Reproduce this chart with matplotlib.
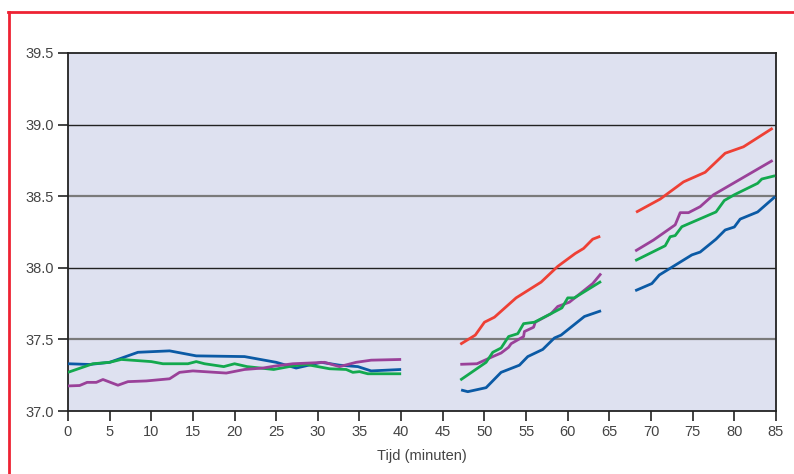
import numpy as np
import matplotlib
matplotlib.use("Agg")
import matplotlib.pyplot as plt
from matplotlib.lines import Line2D

plt.rcParams["font.family"] = ["Liberation Sans", "DejaVu Sans"]

# Segment 1 (0-40 min)
x_blue_1 = [0, 2.6, 5, 8.4, 12.2, 15.4, 21.2, 25, 27.4, 30.4, 32.6, 34.8, 36.4, 40]
y_blue_1 = [37.33, 37.325, 37.34, 37.41, 37.42, 37.385, 37.38, 37.34, 37.30, 37.34, 37.32, 37.31, 37.28, 37.29]
x_green_1 = [0, 3.0, 5, 6.4, 10, 11.4, 14.4, 15.4, 16.4, 18.7, 20, 21.5, 24.7, 27, 28.6, 31.4, 33.4, 34.2, 35, 36, 40]
y_green_1 = [37.27, 37.33, 37.34, 37.36, 37.345, 37.33, 37.33, 37.345, 37.33, 37.31, 37.33, 37.31, 37.29, 37.315, 37.325, 37.295,
             37.29, 37.27, 37.275, 37.26, 37.26]
x_purple_1 = [0, 1.4, 2.3, 3.4, 4.2, 6, 7.2, 9.4, 12.2, 13.4, 15, 19, 21.2, 23.4, 25, 27, 29, 30.8, 32.6, 34.6, 36.4, 40]
y_purple_1 = [37.175, 37.178, 37.20, 37.20, 37.22, 37.18, 37.205, 37.21, 37.225, 37.27, 37.28, 37.265, 37.29, 37.30, 37.315,
              37.33, 37.335, 37.34, 37.31, 37.34, 37.355, 37.36]

# Segment 2 (47-64 min)
x_red_2 = [47.1, 48.9, 50, 51.2, 53.8, 56.8, 58.8, 60.9, 61.9, 63, 63.9]
y_red_2 = [37.466, 37.53, 37.62, 37.655, 37.79, 37.90, 38.01, 38.10, 38.135, 38.20, 38.22]
x_purple_2 = [47.1, 49.1, 51, 52, 52.9, 53.2, 54.7, 54.8, 55.9, 56.1, 58, 58.8, 60.2, 63, 64]
y_purple_2 = [37.326, 37.33, 37.38, 37.405, 37.445, 37.47, 37.52, 37.555, 37.585, 37.62, 37.68, 37.73, 37.76, 37.89, 37.96]
x_green_2 = [47.1, 50.2, 51, 52, 52.9, 54, 54.7, 56, 58, 59.3, 60, 60.8, 64]
y_green_2 = [37.216, 37.34, 37.41, 37.44, 37.52, 37.54, 37.61, 37.62, 37.68, 37.72, 37.79, 37.79, 37.905]
x_blue_2 = [47.2, 48, 50.2, 52, 54.2, 55.2, 57, 58.4, 59.2, 62, 64]
y_blue_2 = [37.147, 37.135, 37.163, 37.27, 37.32, 37.38, 37.43, 37.51, 37.53, 37.66, 37.70]

# Segment 3 (68-85 min)
x_red_3 = [68.2, 71.1, 73.9, 76.5, 78.9, 81.1, 84.6]
y_red_3 = [38.388, 38.48, 38.60, 38.667, 38.80, 38.845, 38.975]
x_purple_3 = [68.1, 70.3, 72.9, 73.5, 74.5, 75.9, 77.5, 84.6]
y_purple_3 = [38.117, 38.194, 38.30, 38.385, 38.385, 38.427, 38.51, 38.75]
x_green_3 = [68.1, 71.7, 72.3, 72.9, 73.7, 77.8, 78.8, 80, 82.8, 83.3, 84.9]
y_green_3 = [38.05, 38.154, 38.217, 38.225, 38.287, 38.39, 38.47, 38.51, 38.59, 38.62, 38.643]
x_blue_3 = [68.1, 70.1, 71, 74.9, 75.9, 77.8, 78.9, 80, 80.7, 82.8, 84.9]
y_blue_3 = [37.84, 37.89, 37.95, 38.09, 38.11, 38.20, 38.264, 38.285, 38.34, 38.39, 38.497]

RED = "#ee4035"
PURPLE = "#9a4199"
GREEN = "#13a94e"
BLUE = "#0b5aa5"

fig = plt.figure(figsize=(7.94, 4.74), dpi=100)
ax = fig.add_axes([0.0856, 0.1329, 0.8917, 0.7553])
ax.set_facecolor("#dee1f0")

for yv, col, lw in [(37.5, "#7a7a7a", 1.6), (38.0, "#222222", 1.0), (38.5, "#7a7a7a", 1.6), (39.0, "#222222", 1.0)]:
    ax.axhline(yv, color=col, linewidth=lw, zorder=1)

lw = 2.0
for xs, ys, c in [
    (x_blue_1, y_blue_1, BLUE), (x_green_1, y_green_1, GREEN), (x_purple_1, y_purple_1, PURPLE),
    (x_red_2, y_red_2, RED), (x_purple_2, y_purple_2, PURPLE), (x_green_2, y_green_2, GREEN), (x_blue_2, y_blue_2, BLUE),
    (x_red_3, y_red_3, RED), (x_purple_3, y_purple_3, PURPLE), (x_green_3, y_green_3, GREEN), (x_blue_3, y_blue_3, BLUE),
]:
    ax.plot(xs, ys, color=c, linewidth=lw, zorder=3, solid_capstyle="butt")

ax.set_xlim(0, 85)
ax.set_ylim(37.0, 39.5)
ax.set_xticks(np.arange(0, 86, 5))
ax.set_yticks([37.0, 37.5, 38.0, 38.5, 39.0, 39.5])
ax.set_yticklabels(["37.0", "37.5", "38.0", "38.5", "39.0", "39.5"])
ax.tick_params(axis="both", direction="out", length=7, width=1.2, color="#222222",
               labelsize=10.5, labelcolor="#444444", pad=3)
for s in ax.spines.values():
    s.set_color("#222222")
    s.set_linewidth(1.3)
ax.set_xlabel("Tijd (minuten)", fontsize=10.5, color="#444444", labelpad=7)

# red frame around the figure (left and top)
fig.add_artist(Line2D([0.0113, 0.0113], [0.0, 0.9757], color="#ee2233", linewidth=2.0, transform=fig.transFigure))
fig.add_artist(Line2D([0.0101, 1.0], [0.9757, 0.9757], color="#ee2233", linewidth=2.0, transform=fig.transFigure))

fig.savefig("out.png", dpi=100)
